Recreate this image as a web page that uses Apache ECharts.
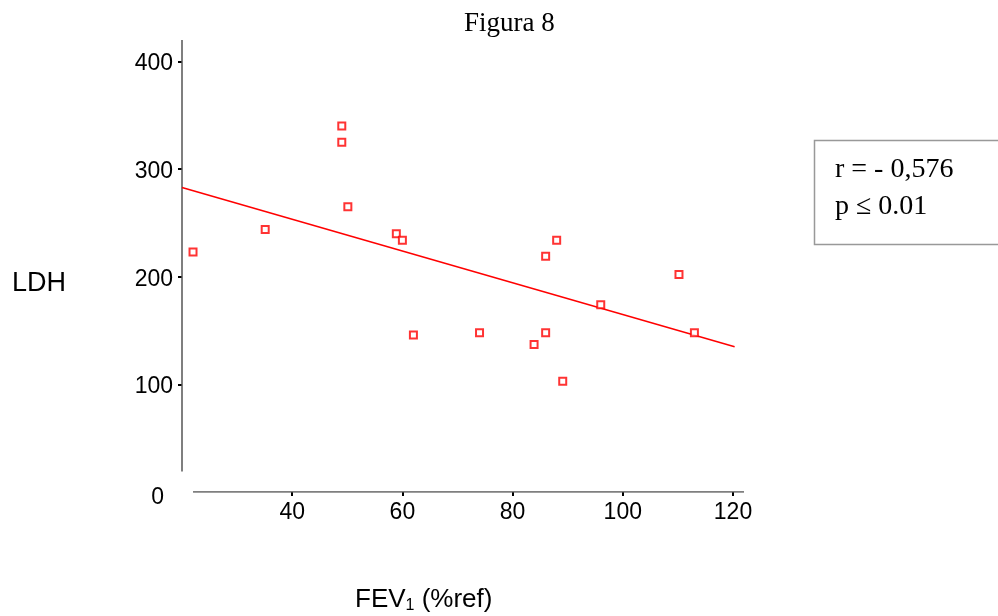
<!DOCTYPE html>
<html>
<head>
<meta charset="utf-8">
<script src="https://cdn.jsdelivr.net/npm/echarts@6/dist/echarts.min.js"></script>
<style>html,body{margin:0;padding:0;background:#fff}#c{width:998px;height:616px}</style>
</head>
<body>
<div id="c"></div>
<script>
var fevValues = [22.0, 35.1, 49.0, 49.0, 50.1, 58.9, 60.0, 88.0, 86.0, 110.2, 96.0, 113.0, 62.0, 74.0, 86.0, 83.9, 89.1];
var ldhValues = [223, 244, 340, 325, 265, 240, 234, 234, 219, 202, 174, 148, 146, 148, 148, 137, 103];
var fitX = [20, 120.3];
var fitY = [283, 135];
var xTickLabels = [40, 60, 80, 100, 120];
var yTickLabels = [0, 100, 200, 300, 400];
var yTickMarks = [100, 200, 300, 400];
var xAxisLineX = [22, 122];
var yAxisLineY = [19, 420];
var titleText = 'Figura 8';
var yName = 'LDH';
var statsLines = ['r = - 0,576', 'p \u2264 0.01'];

var points = fevValues.map(function (v, i) { return [v, ldhValues[i]]; });
var fit = fitX.map(function (v, i) { return [v, fitY[i]]; });
var xLine = xAxisLineX.map(function (v) { return [v, 0]; });
var yLine = yAxisLineY.map(function (v) { return [20, v]; });

var chart = echarts.init(document.getElementById('c'), null, {renderer: 'canvas'});
var axisColor = '#555';
chart.setOption({
  animation: false,
  backgroundColor: '#fff',
  title: [
    {text: titleText, left: 459, top: 5, textStyle: {fontFamily: 'Liberation Serif', fontSize: 27, fontWeight: 'normal', color: '#000'}},
    {text: yName, left: 7, top: 265, textStyle: {fontFamily: 'Liberation Sans', fontSize: 27, fontWeight: 'normal', color: '#000'}},
    {text: '{a|FEV}{s|1}{a| (%ref)}', left: 350, top: 580, textStyle: {fontWeight: 'normal', rich: {
      a: {fontFamily: 'Liberation Sans', fontSize: 26, fontWeight: 'normal', color: '#000'},
      s: {fontFamily: 'Liberation Sans', fontSize: 16, fontWeight: 'normal', color: '#000', padding: [13, 0, 0, 0]}
    }}}
  ],
  grid: {left: 182, right: 254, top: 40, bottom: 124, containLabel: false},
  xAxis: {
    type: 'value', min: 20, max: 122,
    axisLine: {show: false},
    splitLine: {show: false},
    axisTick: {show: true, length: 4, customValues: xTickLabels, lineStyle: {color: '#000', width: 2}},
    axisLabel: {customValues: xTickLabels, margin: 9, fontFamily: 'Liberation Sans', fontSize: 23, color: '#000'}
  },
  yAxis: {
    type: 'value', min: 0, max: 420,
    axisLine: {show: false},
    splitLine: {show: false},
    axisTick: {show: true, length: 4, customValues: yTickMarks, lineStyle: {color: '#000', width: 2}},
    axisLabel: {customValues: yTickLabels, margin: 9, fontFamily: 'Liberation Sans', fontSize: 23, color: '#000',
      formatter: function (v) { return v === 0 ? '{z|0}' : '{n|' + v + '}'; },
      rich: {
        n: {fontFamily: 'Liberation Sans', fontSize: 23, color: '#000', padding: [5, 0, 0, 0]},
        z: {fontFamily: 'Liberation Sans', fontSize: 23, color: '#000', padding: [12, 9, 0, 0]}
      }
    }
  },
  graphic: [
    {type: 'rect', shape: {x: 814.5, y: 140.5, width: 190, height: 104}, style: {fill: '#fff', stroke: '#999', lineWidth: 1.5}, z: 10},
    {type: 'text', left: 835, top: 151, style: {text: statsLines.join('\n'), font: '28px "Liberation Serif"', lineHeight: 37, fill: '#000'}, z: 11}
  ],
  series: [
    {type: 'line', data: yLine, symbol: 'none', silent: true, lineStyle: {color: axisColor, width: 1.5}},
    {type: 'line', data: xLine, symbol: 'none', silent: true, lineStyle: {color: axisColor, width: 1.5}},
    {type: 'line', data: fit, symbol: 'none', silent: true, lineStyle: {color: '#f00', width: 1.5}, z: 3},
    {type: 'scatter', data: points, symbol: 'rect', symbolSize: 7, silent: true,
      itemStyle: {color: '#fff', borderColor: '#f00', borderWidth: 2}, z: 4}
  ]
});
</script>
</body>
</html>
